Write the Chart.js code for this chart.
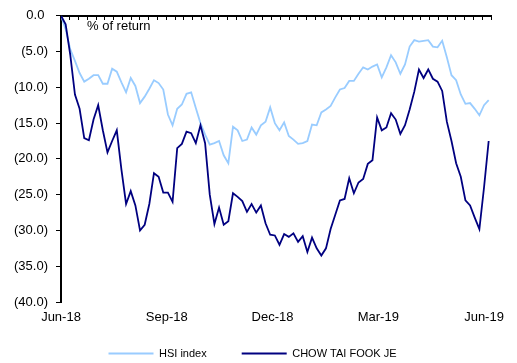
<!DOCTYPE html>
<html>
<head>
<meta charset="utf-8">
<script src="https://cdn.jsdelivr.net/npm/chart.js@4.4.1/dist/chart.umd.min.js"></script>
<style>
  html, body { margin: 0; background: #fff; overflow: hidden; }
  /* a few px taller than the window so the legend row lands low, like the original */
  #wrap { width: 517px; height: 369px; }
</style>
</head>
<body>
<div id="wrap"><canvas id="zgchart"></canvas></div>
<script>
// one sample every 4 calendar days, starting 1 Jun 2018
var dayStep = 4;
var tickDays = [0, 91, 182, 273, 364];
var tickLabels = ["Jun-18", "Sep-18", "Dec-18", "Mar-19", "Jun-19"];
var seriesNames = ["HSI index", "CHOW TAI FOOK JE"];

var hsiReturn = [
  0, -1.9, -4.7, -6.3, -8.0, -9.2, -8.8, -8.3, -8.3, -9.5,
  -9.5, -7.4, -7.8, -9.3, -10.7, -8.7, -9.8, -12.2, -11.3, -10.2,
  -9.0, -9.4, -10.3, -13.8, -15.3, -13.0, -12.4, -10.9, -10.7, -12.9,
  -15.0, -16.6, -18.0, -17.8, -17.5, -19.5, -20.6, -15.5, -16.0, -17.5,
  -17.3, -15.6, -16.6, -15.3, -14.8, -12.8, -15.0, -16.0, -14.9, -16.8,
  -17.3, -17.9, -17.8, -17.5, -15.2, -15.3, -13.5, -13.1, -12.6, -11.4,
  -10.3, -10.1, -9.1, -9.1, -8.1, -7.2, -7.5, -7.1, -6.8, -8.6,
  -7.2, -5.5, -6.5, -8.1, -6.8, -4.3, -3.4, -3.6, -3.5, -3.4,
  -4.3, -4.4, -3.5, -5.8, -8.3, -9.0, -11.0, -12.3, -12.2, -13.0,
  -13.9, -12.5, -11.8
];

var chowReturn = [
  0, -1.2, -5.5, -11.0, -13.0, -17.1, -17.4, -14.5, -12.5, -16.0,
  -19.1, -17.5, -16.0, -21.5, -26.3, -24.5, -26.5, -30.0, -29.2, -26.3,
  -22.0, -22.5, -24.7, -24.7, -26.0, -18.5, -17.9, -16.2, -16.4, -17.8,
  -15.3, -17.8, -25.0, -29.1, -26.8, -29.2, -28.7, -24.8, -25.3, -25.9,
  -27.4, -26.3, -27.5, -26.5, -29.0, -30.6, -30.7, -32.0, -30.5, -30.9,
  -30.4, -31.6, -30.8, -33.0, -31.0, -32.5, -33.5, -32.5, -29.8, -27.8,
  -25.8, -25.6, -22.7, -24.8, -23.3, -22.8, -20.7, -20.2, -14.2, -16.0,
  -15.6, -13.6, -14.5, -16.5, -15.3, -13.1, -10.6, -7.5, -8.7, -7.5,
  -8.8, -9.2, -10.5, -14.8, -17.5, -20.6, -22.5, -25.8, -26.5, -28.2,
  -29.8, -24.0, -17.5
];

function topoints(values) {
  return values.map(function(v, n) {
    return { x: n * dayStep, y: v };
  });
}

Chart.defaults.font.family = '"Liberation Sans", Arial, sans-serif';
Chart.defaults.font.size = 13;
Chart.defaults.color = "#000";

//label inside the plot
var returnLabel = {
  id: "returnLabel",
  afterDraw: function(chart) {
    var ctx = chart.ctx;
    ctx.save();
    ctx.font = '13px "Liberation Sans", Arial, sans-serif';
    ctx.fillStyle = "#000";
    ctx.textBaseline = "middle";
    ctx.fillText("% of return", chart.chartArea.left + 26, chart.chartArea.top + 11);
    ctx.restore();
  }
};

new Chart(document.getElementById("zgchart"), {
  type: "line",
  data: {
    datasets: [
      { label: seriesNames[0], data: topoints(hsiReturn), borderColor: "#99CCFF", backgroundColor: "#99CCFF",
        borderWidth: 1.8, pointRadius: 0, tension: 0, order: 1 },
      { label: seriesNames[1], data: topoints(chowReturn), borderColor: "#000080", backgroundColor: "#000080",
        borderWidth: 1.8, pointRadius: 0, tension: 0, order: 0 }
    ]
  },
  options: {
    responsive: true,
    maintainAspectRatio: false,
    animation: false,
    layout: { padding: { left: 14, right: 26, top: 14, bottom: 0 } },
    plugins: {
      tooltip: { enabled: false },
      legend: {
        position: "bottom",
        labels: {
          usePointStyle: true, pointStyle: "line", pointStyleWidth: 45,
          padding: 35, font: { size: 11 },
          sort: function(a, b) { return a.datasetIndex - b.datasetIndex; }
        }
      }
    },
    scales: {
      // data axis, only keeps a small gap above the legend
      x: {
        type: "linear", position: "bottom", min: 0, max: 370,
        afterFit: function(axis) { axis.height = 11; },
        ticks: { display: false },
        grid: { display: false, drawTicks: false },
        border: { display: false }
      },
      // month labels, hung under the bottom of the plot
      xlab: {
        type: "linear", position: { y: -40 }, min: 0, max: 370,
        afterBuildTicks: function(axis) {
          axis.ticks = tickDays.map(function(d) { return { value: d }; });
        },
        ticks: {
          padding: 8, maxRotation: 0, autoSkip: false,
          callback: function(value) { return tickLabels[tickDays.indexOf(value)]; }
        },
        grid: { display: false, drawTicks: false },
        border: { display: false }
      },
      // category line crossing at 0, with small ticks pointing down
      xtop: {
        type: "linear", position: { y: 0 }, min: 0, max: 49,
        ticks: { display: false, stepSize: 1 },
        grid: { drawOnChartArea: false, tickLength: 3, color: "#000", lineWidth: 1 },
        border: { display: true, color: "#000", width: 2 }
      },
      y: {
        min: -40, max: 0,
        afterFit: function(axis) { axis.width = 47; },
        ticks: {
          stepSize: 5, padding: 8,
          callback: function(value) {
            return value == 0 ? "0.0 " : "(" + (-value).toFixed(1) + ")";
          }
        },
        grid: { drawOnChartArea: false, tickLength: 5, color: "#000", lineWidth: 1 },
        border: { display: true, color: "#000", width: 2 }
      }
    }
  },
  plugins: [returnLabel]
});
</script>
</body>
</html>
